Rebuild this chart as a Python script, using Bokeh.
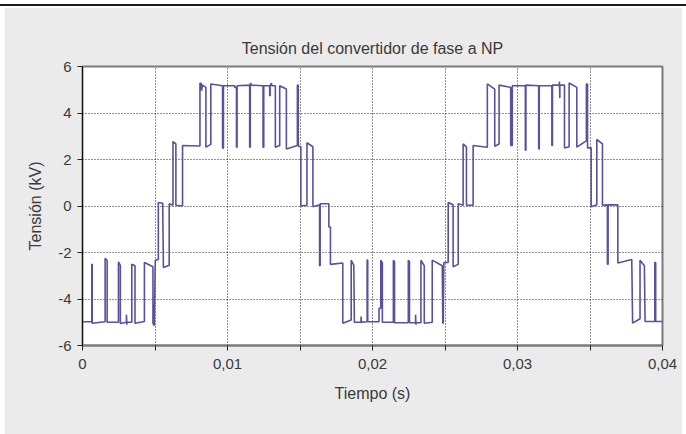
from bokeh.plotting import figure
from bokeh.models import FixedTicker, CustomJSTickFormatter, Div, ColumnDataSource
from bokeh.layouts import column
from bokeh.embed import file_html
from bokeh.resources import INLINE

# ---- data (time in s, voltage in kV) ----
seg1_t = [0.0, 0.00064, 0.00064, 0.00067, 0.00067, 0.00156, 0.00156, 0.0017, 0.0017,
          0.00248, 0.00248, 0.00261, 0.00261, 0.00303, 0.00303, 0.00306, 0.00306,
          0.0034, 0.0034, 0.00362, 0.00362, 0.00427, 0.00427, 0.00486, 0.00486,
          0.00495, 0.00502, 0.00523, 0.00523, 0.00553, 0.00558, 0.00598, 0.00598,
          0.00624, 0.00624, 0.00644, 0.00644, 0.0069, 0.0069, 0.0081, 0.0081,
          0.00821, 0.00821, 0.00828, 0.00851, 0.00851, 0.00885, 0.00885, 0.00966,
          0.00966, 0.00972, 0.00972]
seg1_v = [-4.98, -4.98, -2.51, -2.51, -5.04, -4.98, -2.25, -2.35, -5.0,
          -5.0, -2.4, -2.55, -5.05, -5.0, -4.68, -5.11, -5.0,
          -5.0, -2.51, -2.57, -5.04, -4.97, -2.43, -2.61, -5.04,
          -5.15, -2.33, -2.3, 0.15, 0.12, -2.65, -2.55, 0.1,
          0.03, 2.77, 2.67, 0.03, 0.0, 2.6, 2.58, 5.29,
          5.25, 4.96, 5.2, 5.1, 2.53, 2.65, 5.25, 5.17,
          2.49, 2.49, 5.17]

seg2_t = [0.0105, 0.0105, 0.01062, 0.01062, 0.01066, 0.01066, 0.01153, 0.01153,
          0.01157, 0.01157, 0.0116, 0.01163, 0.01245, 0.01245, 0.0125, 0.0125,
          0.01291, 0.01291, 0.01294, 0.01294, 0.01303, 0.01306, 0.0133, 0.0133,
          0.0136, 0.0136, 0.01406, 0.01406, 0.01482, 0.01482, 0.01488, 0.01488,
          0.01506, 0.01506, 0.01548, 0.01548, 0.01589, 0.01589, 0.01635, 0.01635,
          0.01639, 0.01639, 0.01699, 0.01699, 0.0171, 0.0171, 0.01795, 0.01795,
          0.01853, 0.01853, 0.01871, 0.01875, 0.01921, 0.01921, 0.01924, 0.01963,
          0.01963, 0.01967, 0.01967]
seg2_v = [5.17, 5.1, 5.1, 2.53, 2.53, 5.17, 5.2, 2.53,
          2.53, 5.25, 5.29, 5.2, 5.17, 2.53, 2.53, 5.17,
          5.17, 4.74, 4.74, 5.17, 5.29, 5.17, 5.17, 2.53,
          2.6, 5.17, 5.03, 2.45, 2.6, 5.2, 5.2, 2.58,
          2.55, 0.0, 0.03, 2.72, 2.55, -0.03, 0.05, -2.57,
          -2.57, 0.1, 0.1, -0.9, -0.9, -2.51, -2.45, -5.04,
          -4.9, -2.33, -2.55, -5.0, -5.0, -4.75, -5.0, -4.98,
          -2.33, -2.33, -4.98]

seg3_t = [0.02045, 0.02045, 0.02057, 0.02057, 0.02068, 0.02068, 0.02144, 0.02144,
          0.02152, 0.02152, 0.02247, 0.02247, 0.02255, 0.02255, 0.02297, 0.02297,
          0.023, 0.023, 0.02334, 0.02334, 0.02357, 0.02357, 0.02412, 0.02412,
          0.02481, 0.02485, 0.02488, 0.02492, 0.02522, 0.02522, 0.02556, 0.02556,
          0.02591, 0.02591, 0.02625, 0.02625, 0.02648, 0.02648, 0.02694, 0.02694,
          0.02792, 0.02792, 0.02843, 0.02843, 0.02873, 0.02873, 0.02953, 0.02953,
          0.02964, 0.02964]
seg3_v = [-4.98, -4.4, -4.4, -2.33, -2.45, -5.0, -5.0, -2.33,
          -2.4, -5.02, -5.02, -2.33, -2.4, -5.02, -5.02, -4.68,
          -5.11, -5.02, -5.02, -2.33, -2.57, -5.04, -5.0, -2.33,
          -2.57, -5.04, -5.04, -2.43, -2.43, 0.15, 0.05, -2.61,
          -2.51, 0.1, 0.03, 2.67, 2.53, 0.03, 0.03, 2.6,
          2.53, 5.25, 5.03, 2.57, 2.67, 5.2, 5.1, 2.6,
          2.6, 5.17]

seg4_t = [0.03054, 0.03054, 0.03058, 0.03058, 0.03146, 0.03146, 0.0315, 0.0315,
          0.03237, 0.03237, 0.03241, 0.03241, 0.03289, 0.03289, 0.03292, 0.03292,
          0.03324, 0.03324, 0.03356, 0.03356, 0.03409, 0.03409, 0.03475, 0.03475,
          0.03483, 0.03483, 0.03508, 0.03508, 0.03547, 0.03547, 0.03586, 0.03586,
          0.0362, 0.0362, 0.03625, 0.03625, 0.03692, 0.03692, 0.03788, 0.03794,
          0.03845, 0.03845, 0.03875, 0.0388, 0.03947, 0.03947, 0.03953, 0.03953,
          0.04]
seg4_v = [5.17, 2.4, 2.4, 5.2, 5.17, 2.45, 2.45, 5.17,
          5.17, 2.6, 2.6, 5.2, 5.2, 5.35, 4.64, 5.2,
          5.2, 2.49, 2.55, 5.29, 5.1, 2.53, 2.8, 5.25,
          5.25, 2.5, 2.5, -0.03, 0.05, 2.86, 2.67, 0.03,
          0.05, -2.5, -2.5, 0.05, 0.05, -2.45, -2.3, -5.04,
          -4.85, -2.33, -2.57, -4.97, -4.97, -2.43, -2.43, -4.97,
          -4.97]

x_ticks = [0.0, 0.005, 0.01, 0.015, 0.02, 0.025, 0.03, 0.035, 0.04]
y_ticks = [-6, -4, -2, 0, 2, 4, 6]

title_text = "Tensión del convertidor de fase a NP"
x_label = "Tiempo (s)"
y_label = "Tensión (kV)"

t_all = seg1_t + seg2_t + seg3_t + seg4_t
v_all = seg1_v + seg2_v + seg3_v + seg4_v
n = min(len(t_all), len(v_all))
src = ColumnDataSource(data=dict(t=t_all[:n], v=v_all[:n]))

FONT = "Liberation Sans"
TXT = "#3a3a3a"
GRAY_BG = "#ebebeb"
FS = "15px"
FS_LAB = "16px"

p = figure(width=678, height=427, x_range=(0, 0.04), y_range=(-6, 6),
           output_backend="svg", toolbar_location=None,
           min_border_left=78, min_border_right=20, min_border_top=59, min_border_bottom=89,
           background_fill_color="white", border_fill_color=GRAY_BG,
           title=title_text)
p.margin = (0, 4, 0, 4)

p.title.align = "center"
p.title.text_font = FONT
p.title.text_font_size = FS_LAB
p.title.text_font_style = "normal"
p.title.text_color = TXT
p.title.standoff = 19
p.title.offset = -16

p.line("t", "v", source=src, line_color="#5b509e", line_width=1.6)

p.xaxis.ticker = FixedTicker(ticks=x_ticks)
p.yaxis.ticker = FixedTicker(ticks=y_ticks)
p.xaxis.formatter = CustomJSTickFormatter(code="""
const k = Math.round(tick * 1000);
if (k % 10 != 0) { return ""; }
if (k == 0) { return "0"; }
return tick.toFixed(2).replace(".", ",");
""")
p.yaxis.formatter = CustomJSTickFormatter(code="""
return String(Math.round(tick));
""")

for ax in (p.xaxis[0], p.yaxis[0]):
    ax.major_label_text_font = FONT
    ax.major_label_text_font_size = FS
    ax.major_label_text_color = TXT
    ax.axis_label_text_font = FONT
    ax.axis_label_text_font_size = FS_LAB
    ax.axis_label_text_font_style = "normal"
    ax.axis_label_text_color = TXT
    ax.minor_tick_line_color = None
    ax.major_tick_in = 0
    ax.major_tick_out = 5
    ax.major_tick_line_color = "#222222"

p.xaxis.axis_label = x_label
p.yaxis.axis_label = y_label
p.xaxis.axis_line_color = "#7a7a7a"
p.xaxis.axis_line_width = 2
p.yaxis.axis_line_color = "#111111"
p.yaxis.axis_line_width = 1
p.xaxis.major_label_standoff = 8
p.xaxis.axis_label_standoff = 13
p.yaxis.major_label_standoff = 6
p.yaxis.axis_label_standoff = 11

p.outline_line_color = "#7a7a7a"
p.outline_line_width = 2

for g in (p.xgrid[0], p.ygrid[0]):
    g.grid_line_color = "#222222"
    g.grid_line_dash = "1 2"
    g.grid_line_width = 1

topline = Div(text="", width=686, height=2, margin=(4, 0, 1, 0),
              styles={"background-color": "#1a1a1a"})

layout = column(topline, p, spacing=0)
open("out.html", "w").write(file_html(layout, INLINE))
